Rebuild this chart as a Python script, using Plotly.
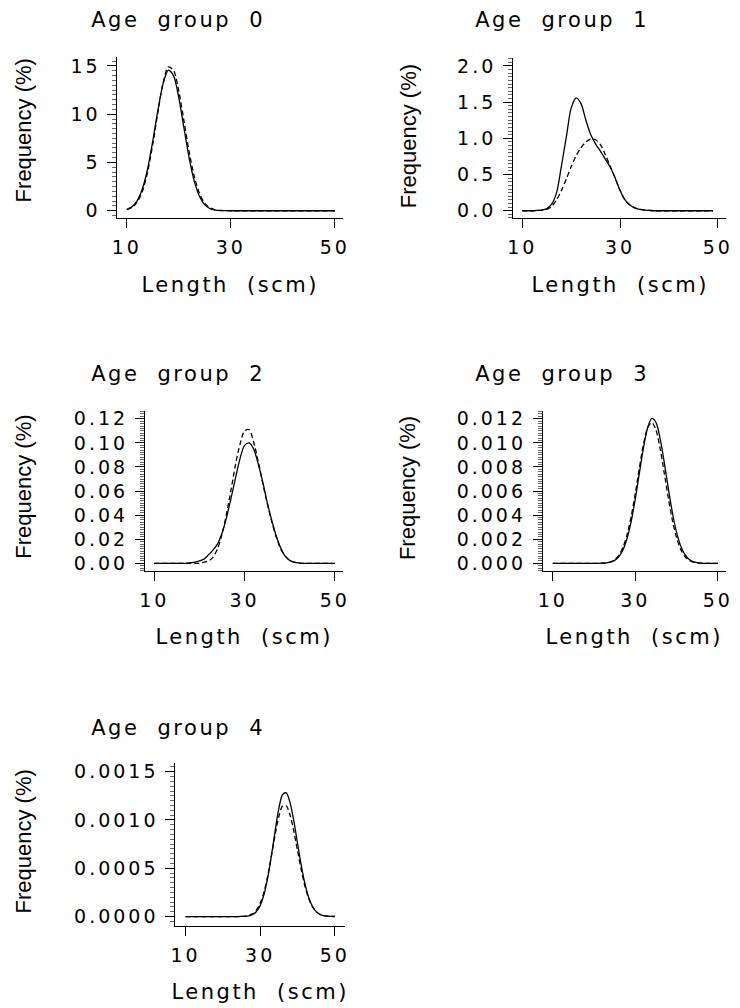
import plotly.graph_objects as go

# ---------------- data ----------------
LENGTHS = [10, 11, 12, 13, 14, 15, 16, 17, 18, 19, 20, 21, 22, 23, 24, 25, 26, 27, 28, 29,
           30, 31, 32, 33, 34, 35, 36, 37, 38, 39, 40, 41, 42, 43, 44, 45, 46, 47, 48, 49, 50]

AGE_GROUPS = ["Age group 0", "Age group 1", "Age group 2", "Age group 3", "Age group 4"]

age0_solid = [0.15, 0.42, 1.05, 2.28, 4.35, 7.24, 10.47, 13.22, 14.56, 13.97, 11.69, 8.53, 5.43, 3.01,
              1.45, 0.61, 0.22, 0.07, 0.02, 0.01,
              0, 0, 0, 0, 0, 0, 0, 0, 0, 0, 0, 0, 0, 0, 0, 0, 0, 0, 0, 0, 0]
age0_dashed = [0.11, 0.34, 0.89, 2.03, 4.02, 6.91, 10.29, 13.30, 14.90, 14.52, 12.39, 9.26, 6.07, 3.48,
               1.75, 0.77, 0.30, 0.10, 0.03, 0.01,
               0, 0, 0, 0, 0, 0, 0, 0, 0, 0, 0, 0, 0, 0, 0, 0, 0, 0, 0, 0, 0]

age1_solid = [0, 0, 0, 0.005, 0.01, 0.03, 0.09, 0.25, 0.62, 1.02, 1.42, 1.56, 1.48, 1.25, 1.05, 0.92,
              0.82, 0.71, 0.60, 0.45, 0.28, 0.15, 0.08, 0.04, 0.02, 0.01, 0.005,
              0, 0, 0, 0, 0, 0, 0, 0, 0, 0, 0, 0, 0]
age1_dashed = [0, 0, 0, 0.003, 0.008, 0.02, 0.06, 0.15, 0.28, 0.44, 0.61, 0.76, 0.87, 0.95, 0.99, 0.98,
               0.91, 0.77, 0.61, 0.45, 0.28, 0.15, 0.08, 0.04, 0.02, 0.01, 0.005,
               0, 0, 0, 0, 0, 0, 0, 0, 0, 0, 0, 0, 0]

age2_solid = [0, 0, 0, 0, 0, 0, 0, 0, 0.0005, 0.001, 0.002, 0.0035, 0.007, 0.011, 0.016, 0.025, 0.038,
              0.054, 0.071, 0.087, 0.098, 0.100, 0.095, 0.083, 0.068, 0.051, 0.036, 0.023, 0.013,
              0.006, 0.0025, 0.001, 0.0003, 0, 0, 0, 0, 0, 0, 0, 0]
age2_dashed = [0, 0, 0, 0, 0, 0, 0, 0, 0, 0, 0, 0.001, 0.002, 0.005, 0.012, 0.024, 0.041, 0.061, 0.082,
               0.099, 0.110, 0.111, 0.101, 0.085, 0.067, 0.050, 0.035, 0.022, 0.012, 0.006, 0.0025,
               0.001, 0, 0, 0, 0, 0, 0, 0, 0, 0]

age3_solid = [0, 0, 0, 0, 0, 0, 0, 0, 0, 0, 0, 0, 0.00001, 0.00004, 0.0001, 0.00025, 0.00055, 0.00111,
              0.00206, 0.00348, 0.00536, 0.00753, 0.00965, 0.01128, 0.01203, 0.0117, 0.01038,
              0.00841, 0.00621, 0.00418, 0.00257, 0.00144, 0.00074, 0.00034, 0.00015, 0.00006,
              0.00002, 0, 0, 0, 0]
age3_dashed = [0, 0, 0, 0, 0, 0, 0, 0, 0, 0, 0, 0, 0.00002, 0.00005, 0.00013, 0.00031, 0.00067, 0.00132,
               0.00237, 0.00389, 0.00582, 0.00795, 0.00991, 0.01127, 0.01169, 0.01107, 0.00956,
               0.00753, 0.00541, 0.00355, 0.00212, 0.00116, 0.00057, 0.00026, 0.00011, 0.00004,
               0.00001, 0, 0, 0, 0]

age4_solid = [0, 0, 0, 0, 0, 0, 0, 0, 0, 0, 0, 0, 0, 0, 0, 0.0000007, 0.0000025, 0.0000077, 0.000021,
              0.000052, 0.000115, 0.000226, 0.000398, 0.000628, 0.000886, 0.001119, 0.001264,
              0.00128, 0.001179, 0.00099, 0.000759, 0.00053, 0.000338, 0.000197, 0.000104,
              0.0000505, 0.0000223, 0.000009, 0.0000033, 0.000001, 0.0000003]
age4_dashed = [0, 0, 0, 0, 0, 0, 0, 0, 0, 0, 0, 0, 0, 0, 0, 0.0000015, 0.0000045, 0.0000123, 0.00003,
               0.000068, 0.000138, 0.000253, 0.000418, 0.000626, 0.000846, 0.001036, 0.001146,
               0.001147, 0.001052, 0.000885, 0.000683, 0.000483, 0.000313, 0.000186, 0.000102,
               0.000051, 0.000023, 0.0000099, 0.0000038, 0.0000013, 0.0000004]

SOLID = [age0_solid, age1_solid, age2_solid, age3_solid, age4_solid]
DASHED = [age0_dashed, age1_dashed, age2_dashed, age3_dashed, age4_dashed]

X_TICKS = [10, 30, 50]
Y_DTICK = [5, 0.5, 0.02, 0.002, 0.0005]
Y_TOPTICK = [15, 2.0, 0.12, 0.012, 0.0015]
Y_FORMAT = ["d", ".1f", ".2f", ".3f", ".4f"]
X_TITLE = "Length (scm)"
Y_TITLE = "Frequency (%)"

# ---------------- layout geometry (pixels) ----------------
W, H = 740, 1008
# box left, right, top, bottom ; pixel of x=10, x=50 ; pixel of y=0, y=top tick
GEOM = [
    (115.5, 343.5, 54.0, 216.7, 125.0, 335.0, 209.0, 63.3),
    (515.0, 730.0, 55.0, 216.7, 524.3, 721.7, 209.0, 63.3),
    (143.3, 343.3, 410.0, 571.7, 152.7, 335.0, 563.7, 418.3),
    (545.0, 730.0, 410.0, 571.7, 555.0, 721.7, 563.7, 418.3),
    (174.0, 345.0, 765.0, 928.3, 184.3, 335.0, 919.0, 773.3),
]
TITLE_POS = [(177, 17.5), (564, 17.5), (177, 373.5), (564, 373.5), (177, 729.5)]
YTITLE_X = [21, 409, 21, 409, 21]
YTITLE_DY = [-7, -2, -4, -3, -3]

FONT = "DejaVu Sans, Liberation Sans, sans-serif"
YFONT = "Liberation Sans, Arial, sans-serif"

fig = go.Figure()
layout = dict(
    width=W, height=H, margin=dict(l=0, r=0, t=0, b=0),
    paper_bgcolor="white", plot_bgcolor="white", showlegend=False,
    font=dict(family=FONT, color="black"),
)
annotations = []

for i in range(5):
    L, R, T, B, x10, x50, y0, yt = GEOM[i]
    ppu = (x50 - x10) / 40.0
    xmin = 10 - (x10 - L) / ppu
    xmax = 50 + (R - x50) / ppu
    ppv = (y0 - yt) / Y_TOPTICK[i]
    ymin = -(B - y0) / ppv
    ymax = Y_TOPTICK[i] + (yt - T) / ppv

    xa = "xaxis" if i == 0 else f"xaxis{i+1}"
    ya = "yaxis" if i == 0 else f"yaxis{i+1}"
    xr = "x" if i == 0 else f"x{i+1}"
    yr = "y" if i == 0 else f"y{i+1}"

    layout[xa] = dict(
        domain=[L / W, R / W], range=[xmin, xmax], anchor=yr,
        showline=True, linecolor="black", linewidth=1,
        showgrid=False, zeroline=False,
        tickmode="array", tickvals=X_TICKS,
        ticks="outside", ticklen=9, tickwidth=1, tickcolor="black",
        tickfont=dict(family=FONT, size=19, color="black"),
        ticklabelstandoff=3,
    )
    layout[ya] = dict(
        domain=[1 - B / H, 1 - T / H], range=[ymin, ymax], anchor=xr,
        showline=True, linecolor="black", linewidth=1,
        showgrid=False, zeroline=False,
        tickmode="linear", tick0=0, dtick=Y_DTICK[i], tickformat=Y_FORMAT[i],
        ticks="outside", ticklen=9, tickwidth=1, tickcolor="black",
        tickfont=dict(family=FONT, size=19, color="black"),
        ticklabelstandoff=3,
        minor=dict(tickmode="linear", tick0=0, dtick=Y_DTICK[i] / 10.0, ticks="outside",
                   ticklen=4, tickwidth=1, tickcolor="#666666", showgrid=False),
    )

    fig.add_trace(go.Scatter(
        x=LENGTHS, y=SOLID[i], xaxis=xr, yaxis=yr, mode="lines",
        line=dict(color="black", width=1.3, shape="spline", smoothing=0.8),
        hoverinfo="skip",
    ))
    fig.add_trace(go.Scatter(
        x=LENGTHS, y=DASHED[i], xaxis=xr, yaxis=yr, mode="lines",
        line=dict(color="black", width=1.3, dash="5px,3px", shape="spline", smoothing=0.8),
        hoverinfo="skip",
    ))

    tx, ty = TITLE_POS[i]
    annotations.append(dict(text=AGE_GROUPS[i], x=tx / W, y=1 - ty / H, xref="paper", yref="paper",
                            xanchor="center", yanchor="middle", showarrow=False,
                            font=dict(family=FONT, size=21, color="black")))
    annotations.append(dict(text=X_TITLE, x=(L + R) / 2 / W, y=1 - (B + 66.5) / H,
                            xref="paper", yref="paper", xanchor="center", yanchor="middle",
                            showarrow=False, font=dict(family=FONT, size=21, color="black")))
    annotations.append(dict(text=Y_TITLE, x=YTITLE_X[i] / W,
                            y=1 - ((T + B) / 2 + YTITLE_DY[i]) / H,
                            xref="paper", yref="paper", xanchor="center", yanchor="middle",
                            textangle=-90, showarrow=False,
                            font=dict(family=YFONT, size=22, color="black")))

layout["annotations"] = annotations
fig.update_layout(**layout)

POST = """
(function(){
  document.body.style.margin = '0';
  document.body.style.padding = '0';
  var gd = document.getElementById('{plot_id}');
  function sp(){
    gd.querySelectorAll('.xaxislayer-above text, .yaxislayer-above text').forEach(function(t){
      t.style.letterSpacing = '3px';
    });
    gd.querySelectorAll('.annotation-text').forEach(function(t){
      if (t.textContent.indexOf('Frequency') < 0) {
        t.style.letterSpacing = '2.5px';
        t.style.wordSpacing = '9px';
      }
    });
  }
  sp();
  if (gd && gd.on) { gd.on('plotly_afterplot', sp); }
  setTimeout(sp, 50);
})();
"""

fig.write_html("out.html", config={"displayModeBar": False}, post_script=POST)
